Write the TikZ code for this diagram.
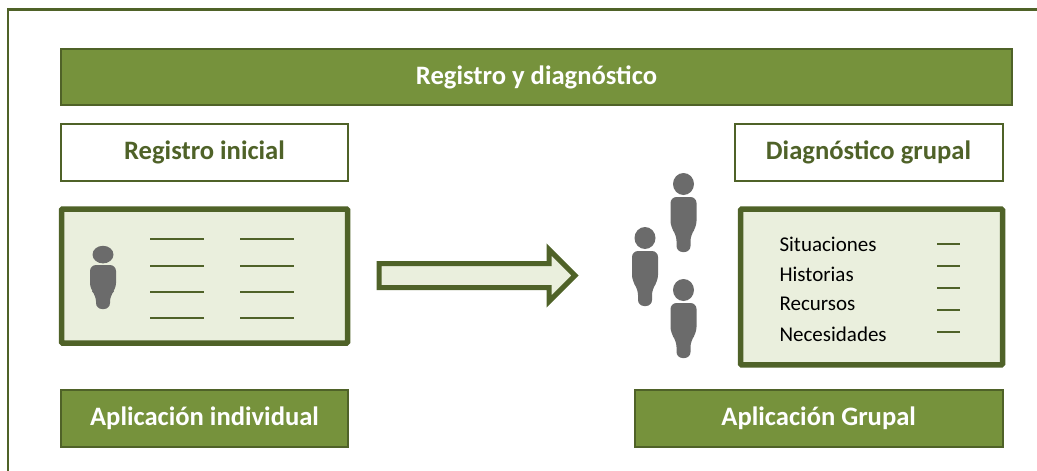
\documentclass[tikz,border=0pt]{standalone}
\usepackage{fontspec}
\setmainfont{Carlito}
\usetikzlibrary{shapes.arrows}
\definecolor{leaf}{HTML}{76923C}
\definecolor{moss}{HTML}{4F6228}
\definecolor{pale}{HTML}{EAEFDD}
\definecolor{figure}{HTML}{6B6B6B}
\begin{document}
\begin{tikzpicture}[
    x=1pt, y=-1pt,
    solidbox/.style={
        rectangle,
        draw=moss,
        line width=2pt,
        fill=leaf,
        text=white,
        font=\fontsize{26.6}{30}\selectfont\bfseries
    },
    titlebox/.style={
        rectangle,
        draw=moss,
        line width=2pt,
        fill=white,
        text=moss,
        font=\fontsize{26.6}{30}\selectfont\bfseries
    },
    panel/.style={
        rectangle,
        rounded corners=1pt,
        draw=moss,
        line width=5.5pt,
        fill=pale
    },
    tick/.style={draw=moss, line width=1.8pt},
    item/.style={anchor=west, font=\fontsize{21}{25}\selectfont, text=black},
    person/.pic={
        \fill[figure] (0,-13) ellipse (10.5 and 11);
        \fill[figure, rounded corners=6pt] (-13,0) -- (13,0) -- (13,30) -- (7,38) -- (7,55) -- (-7,55) -- (-7,38) -- (-13,30) -- cycle;
    }
]
\useasboundingbox (0,0) rectangle (1037,471);

% outer frame
\draw[moss, line width=2.5pt] (7.8,471) -- (7.8,9.7) -- (1037,9.7);

\node[solidbox, minimum width=951pt, minimum height=56pt] (header) at (536.5,77) {Registro y diagnóstico};
\node[titlebox, minimum width=287pt, minimum height=56.5pt] (registro) at (204.5,152.3) {Registro inicial};
\node[titlebox, minimum width=268pt, minimum height=56.5pt] (diagnostico) at (868.5,152.3) {Diagnóstico grupal};
\node[solidbox, minimum width=287pt, minimum height=57pt] (individual) at (204.5,418.5) {Aplicación individual};
\node[solidbox, minimum width=368pt, minimum height=57pt] (grupal) at (818.7,418.5) {Aplicación Grupal};

\node[panel, minimum width=286pt, minimum height=134pt] (ficha) at (204.5,276) {};
\node[panel, minimum width=262pt, minimum height=155.6pt] (lista) at (871.5,287) {};

\pic[yscale=0.8] at (103,265) {person};
\pic at (683.5,197) {person};
\pic at (645,251) {person};
\pic at (683.5,303) {person};

% rows of the single record
\foreach \y in {239.3,265.7,292,318.3} {
    \draw[tick] (150,\y) -- (204,\y);
    \draw[tick] (240,\y) -- (294,\y);
}

\node[item] (situaciones) at (776,244) {Situaciones};
\node[item] (historias) at (776,274) {Historias};
\node[item] (recursos) at (776,304) {Recursos};
\node[item] (necesidades) at (776,334) {Necesidades};

\foreach \y in {244,265.7,287.7,309.7,331.7} {
    \draw[tick] (937,\y) -- (960,\y);
}

\node[single arrow, draw=moss, fill=pale, line width=5pt, inner xsep=0pt, inner ysep=9.5pt,
    single arrow head extend=14pt, single arrow tip angle=90,
    minimum width=47pt, minimum height=196pt] (paso) at (471,275.5) {};

\end{tikzpicture}
\end{document}
